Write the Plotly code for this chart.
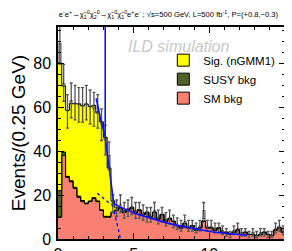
import numpy as np
import plotly.graph_objects as go

bin_width = 0.25
edges = [i * bin_width for i in range(61)]
centers = [e + bin_width / 2 for e in edges[:-1]]

sm_bkg = [10, 38, 28, 26, 23, 19, 17, 16, 17, 18.5, 17, 13, 10, 10, 12, 13, 14, 12, 13, 14,
          12, 13, 11, 12, 10, 12, 9, 11, 8, 9, 8, 6, 5, 7, 5, 6, 4, 5, 8, 5,
          5, 4, 5, 3, 3, 2, 3, 4, 2, 3, 2, 2, 1.5, 2, 3, 2, 1.5, 4, 5, 3]
susy_bkg = [12, 1.5, 0.5, 0.5, 0.5, 0.5, 0.5, 0.3, 0.3, 0.3, 0.3, 0.3, 0.3, 0.3, 0.3, 0.2, 0.2, 0.2, 0.2, 0.2,
            0.2, 0.2, 0.2, 0.2, 0.2, 0.2, 0.2, 0.2, 0.2, 0.2, 0.1, 0.1, 0.1, 0.1, 0.1, 0.1, 0.1, 0.1, 0.1, 0.1,
            0.1, 0.1, 0.1, 0.1, 0.1, 0.1, 0.1, 0.1, 0.1, 0.1, 0.1, 0.1, 0.1, 0.1, 0.1, 0.1, 0.1, 0.1, 0.1, 0.1]
signal = [58, 30, 30, 35, 38, 42, 43, 45, 43, 42, 40, 40, 36, 22, 5, 1, 0, 0, 0, 0,
          0, 0, 0, 0, 0, 0, 0, 0, 0, 0, 0, 0, 0, 0, 0, 0, 0, 0, 0, 0,
          0, 0, 0, 0, 0, 0, 0, 0, 0, 0, 0, 0, 0, 0, 0, 0, 0, 0, 0, 0]
data = [89, 71, 58, 63, 62, 61, 61, 62, 60, 59, 58, 52, 45, 38, 16, 14, 16, 13, 14, 15,
        13, 13, 12, 11, 11, 13, 10, 11, 9, 10, 8, 7, 6, 8, 6, 6, 5, 6, 13, 6,
        6, 5, 5, 4, 3, 2, 4, 5, 3, 3, 2, 3, 2, 3, 3, 2, 2, 5, 6, 4]

fit_x = [2.52, 2.8, 3.1, 3.4, 3.69, 4.13, 4.6, 5.0, 5.66, 6.5, 7.3, 7.9, 9.0, 10.1, 11.2, 12.5]
fit_y = [64, 55, 47, 31, 16, 14.5, 13.0, 11.8, 10.4, 8.6, 7.1, 6.2, 4.6, 3.3, 2.5, 1.7]
edge_x = [3.12, 3.12]
edge_y = [47, 100]
bkgfit_x = [2.59, 3.69]
bkgfit_y = [20.8, 14.7]
sigfit_x = [3.72, 4.13]
sigfit_y = [12.5, 0]

sm = np.array(sm_bkg, float)
su = np.array(susy_bkg, float)
sg = np.array(signal, float)
dt = np.array(data, float)
tot = sm + su + sg

fig = go.Figure()
fig.add_bar(x=centers, y=sm, base=0, width=bin_width, marker=dict(color="#fa8072", line_width=0), showlegend=False)
fig.add_bar(x=centers, y=su, base=sm, width=bin_width, marker=dict(color="#4f6228", line_width=0), showlegend=False)
fig.add_bar(x=centers, y=sg, base=sm + su, width=bin_width, marker=dict(color="#ffff00", line_width=0), showlegend=False)
# difference between pseudo-data and stack
lo = np.minimum(dt, tot)
fig.add_bar(x=centers, y=np.abs(dt - tot), base=lo, width=bin_width,
            marker=dict(color="rgba(60,60,60,0.45)", line_width=0), showlegend=False)


def step(vals):
    xs = list(edges)
    ys = list(vals) + [vals[-1]]
    return xs, ys


for arr in (sm, sm + su, tot):
    sx, sy = step(arr)
    fig.add_scatter(x=sx, y=sy, mode="lines", line=dict(color="black", width=1, shape="hv"),
                    showlegend=False, hoverinfo="skip")

fig.add_scatter(x=centers, y=dt, mode="markers", marker=dict(size=1, color="black"),
                error_y=dict(type="data", array=np.sqrt(dt), color="#555555", thickness=1.3, width=1.5),
                showlegend=False)

fig.add_scatter(x=fit_x, y=fit_y, mode="lines", line=dict(color="#1010ff", width=1.6), showlegend=False)
fig.add_scatter(x=edge_x, y=edge_y, mode="lines", line=dict(color="#1010ff", width=1.6), showlegend=False)
fig.add_scatter(x=bkgfit_x, y=bkgfit_y, mode="lines", line=dict(color="#1010ff", width=1.4, dash="dot"), showlegend=False)
fig.add_scatter(x=sigfit_x, y=sigfit_y, mode="lines", line=dict(color="#1010ff", width=1.4, dash="dot"), showlegend=False)

# legend entries
for name, col in (("Sig. (nGMM1)", "#ffff00"), ("SUSY bkg", "#4f6228"), ("SM bkg", "#fa8072")):
    fig.add_bar(x=[None], y=[None], name=name, marker=dict(color=col, line=dict(color="black", width=1)))

axis_common = dict(showline=True, linecolor="black", linewidth=1.5, mirror="ticks", ticks="inside",
                   tickcolor="black", showgrid=False, zeroline=False, automargin=False,
                   tickfont=dict(family="Liberation Sans, Arial", size=16, color="black"))
fig.update_layout(
    width=284, height=243,
    margin=dict(l=49.5, r=7, t=19, b=12, autoexpand=False),
    paper_bgcolor="white", plot_bgcolor="white",
    barmode="overlay", bargap=0,
    font=dict(family="Liberation Sans, Arial", color="black"),
    xaxis=dict(range=[0, 15], dtick=5, ticklen=6, tickwidth=1,
               minor=dict(dtick=1, ticklen=3, ticks="inside", tickcolor="black"), **axis_common),
    yaxis=dict(range=[0, 96.4], dtick=20, ticklen=6, tickwidth=1, ticklabelstandoff=2,
               minor=dict(dtick=5, ticklen=3, ticks="inside", tickcolor="black"),
               title=dict(text="Events/(0.25 GeV)", font=dict(size=19), standoff=7), **axis_common),
    legend=dict(x=0.464, y=0.912, xanchor="left", yanchor="top", bgcolor="rgba(0,0,0,0)",
                font=dict(size=11.5), itemwidth=30, tracegroupgap=0),
    title=dict(text="e<sup>-</sup>e<sup>+</sup>→χ̃<sub>1</sub><sup>0</sup>χ̃<sub>2</sub><sup>0</sup>→χ̃<sub>1</sub><sup>0</sup>χ̃<sub>1</sub><sup>0</sup>e<sup>+</sup>e<sup>-</sup> ; √s=500 GeV, L=500 fb<sup>-1</sup>, P=(+0.8,−0.3)",
               font=dict(size=7.6), x=0.565, xanchor="center", y=0.985, yanchor="top"),
    annotations=[dict(text="<i>ILD simulation</i>", xref="paper", yref="paper", x=0.764, y=0.958,
                      showarrow=False, font=dict(size=16, color="#c8c8c8"))],
)

fig.write_html("out.html")
